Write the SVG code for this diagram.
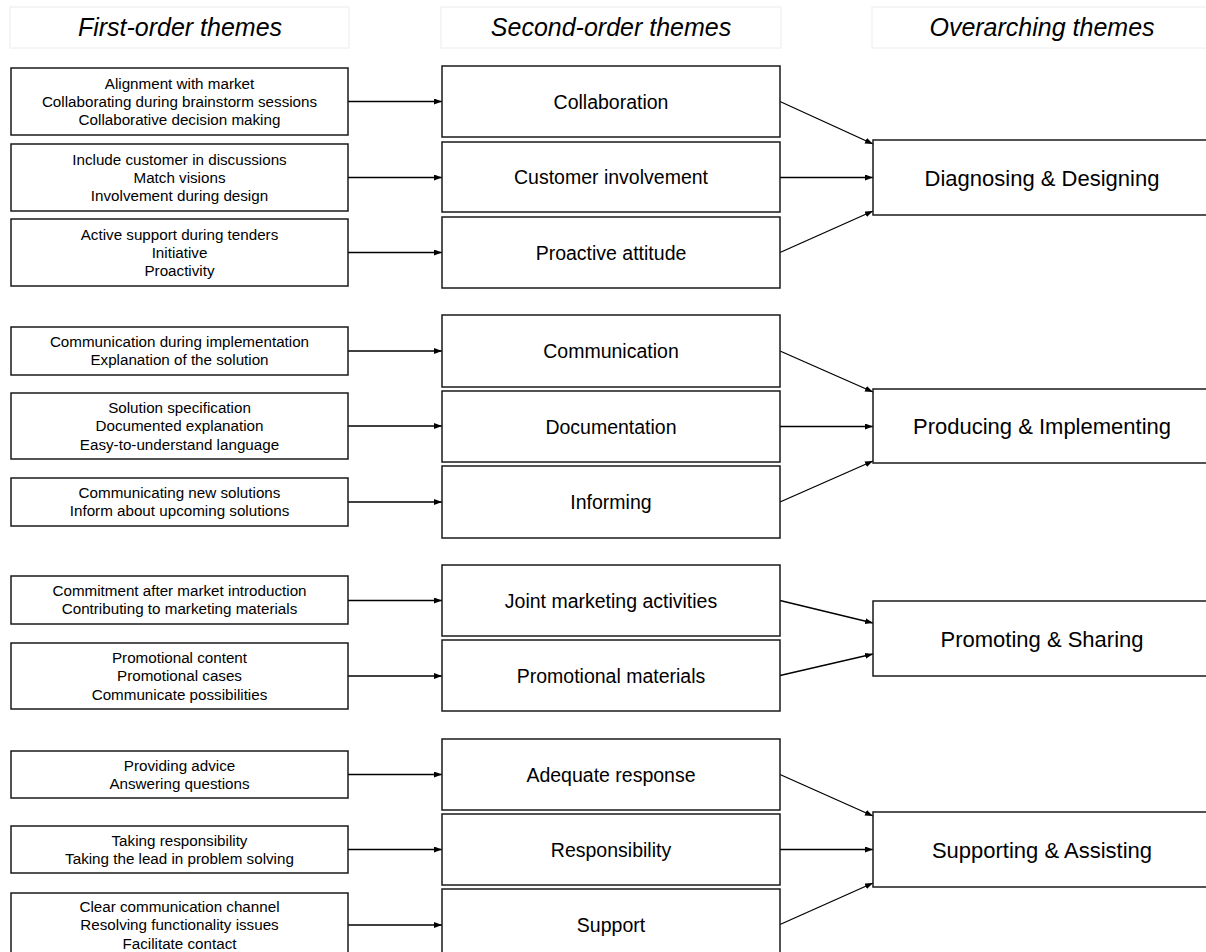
<svg xmlns="http://www.w3.org/2000/svg" width="1206" height="952" viewBox="0 0 1206 952">
<style>
.hdr{fill:#fff;stroke:#ececec;stroke-width:1}
.ht{font-family:"Liberation Sans",Arial,sans-serif;font-style:italic;font-size:25px;fill:#000;text-anchor:middle}
.box{fill:#fff;stroke:#1a1a1a;stroke-width:1.5}
.t1{font-family:"Liberation Sans",Arial,sans-serif;font-size:15.2px;fill:#000;text-anchor:middle}
.t2{font-family:"Liberation Sans",Arial,sans-serif;font-size:19.5px;fill:#000;text-anchor:middle}
.t3{font-family:"Liberation Sans",Arial,sans-serif;font-size:22px;fill:#000;text-anchor:middle}
.c{fill:none;stroke:#000;stroke-width:1.3;marker-end:url(#ah)}
</style>
<defs>
<marker id="ah" markerUnits="userSpaceOnUse" markerWidth="10" markerHeight="8" refX="8" refY="3" orient="auto">
<path d="M0,0 L8,3 L0,6 z" fill="#000"/>
</marker>
</defs>
<rect width="1206" height="952" fill="#fff"/>
<g id="headers">
<rect class="hdr" x="10" y="7" width="339" height="41"/>
<text class="ht" x="180" y="36">First-order themes</text>
<rect class="hdr" x="441" y="7" width="340" height="41"/>
<text class="ht" x="611" y="36">Second-order themes</text>
<rect class="hdr" x="872" y="7" width="340" height="41"/>
<text class="ht" x="1042" y="36">Overarching themes</text>
</g>
<g id="connectors">
<path class="c" d="M348,101.5 H442"/>
<path class="c" d="M348,177.5 H442"/>
<path class="c" d="M348,252.5 H442"/>
<path class="c" d="M348,351 H442"/>
<path class="c" d="M348,426 H442"/>
<path class="c" d="M348,502 H442"/>
<path class="c" d="M348,600.5 H442"/>
<path class="c" d="M348,676 H442"/>
<path class="c" d="M348,774.5 H442"/>
<path class="c" d="M348,849.5 H442"/>
<path class="c" d="M348,925 H442"/>
<path class="c" d="M780,101.5 L873,144"/>
<path class="c" d="M780,177.5 L873,177.5"/>
<path class="c" d="M780,252.5 L873,211"/>
<path class="c" d="M780,351 L873,392"/>
<path class="c" d="M780,426.5 L873,426.5"/>
<path class="c" d="M780,502 L873,461"/>
<path class="c" d="M780,600.5 L873,623"/>
<path class="c" d="M780,675.5 L873,654"/>
<path class="c" d="M780,774.5 L873,816"/>
<path class="c" d="M780,849.5 L873,849.5"/>
<path class="c" d="M780,924.5 L873,883"/>
</g>
<g id="f1"><rect class="box" x="11" y="68" width="337" height="67"/>
<text class="t1" x="179.5" y="88.5">Alignment with market</text><text class="t1" x="179.5" y="106.8">Collaborating during brainstorm sessions</text><text class="t1" x="179.5" y="125.1">Collaborative decision making</text></g>
<g id="f2"><rect class="box" x="11" y="144" width="337" height="67"/>
<text class="t1" x="179.5" y="164.5">Include customer in discussions</text><text class="t1" x="179.5" y="182.8">Match visions</text><text class="t1" x="179.5" y="201.1">Involvement during design</text></g>
<g id="f3"><rect class="box" x="11" y="219" width="337" height="67"/>
<text class="t1" x="179.5" y="239.5">Active support during tenders</text><text class="t1" x="179.5" y="257.8">Initiative</text><text class="t1" x="179.5" y="276.1">Proactivity</text></g>
<g id="f4"><rect class="box" x="11" y="327" width="337" height="48"/>
<text class="t1" x="179.5" y="347">Communication during implementation</text><text class="t1" x="179.5" y="365.3">Explanation of the solution</text></g>
<g id="f5"><rect class="box" x="11" y="393" width="337" height="66"/>
<text class="t1" x="179.5" y="413">Solution specification</text><text class="t1" x="179.5" y="431.3">Documented explanation</text><text class="t1" x="179.5" y="449.6">Easy-to-understand language</text></g>
<g id="f6"><rect class="box" x="11" y="478" width="337" height="48"/>
<text class="t1" x="179.5" y="498">Communicating new solutions</text><text class="t1" x="179.5" y="516.3">Inform about upcoming solutions</text></g>
<g id="f7"><rect class="box" x="11" y="576" width="337" height="48"/>
<text class="t1" x="179.5" y="596">Commitment after market introduction</text><text class="t1" x="179.5" y="614.3">Contributing to marketing materials</text></g>
<g id="f8"><rect class="box" x="11" y="643" width="337" height="66"/>
<text class="t1" x="179.5" y="663">Promotional content</text><text class="t1" x="179.5" y="681.3">Promotional cases</text><text class="t1" x="179.5" y="699.6">Communicate possibilities</text></g>
<g id="f9"><rect class="box" x="11" y="751" width="337" height="47"/>
<text class="t1" x="179.5" y="770.6">Providing advice</text><text class="t1" x="179.5" y="788.9">Answering questions</text></g>
<g id="f10"><rect class="box" x="11" y="826" width="337" height="47"/>
<text class="t1" x="179.5" y="845.6">Taking responsibility</text><text class="t1" x="179.5" y="863.9">Taking the lead in problem solving</text></g>
<g id="f11"><rect class="box" x="11" y="893" width="337" height="66"/>
<text class="t1" x="179.5" y="912">Clear communication channel</text><text class="t1" x="179.5" y="930.3">Resolving functionality issues</text><text class="t1" x="179.5" y="948.6">Facilitate contact</text></g>
<g id="s1"><rect class="box" x="442" y="66" width="338" height="71"/><text class="t2" x="611" y="108.5">Collaboration</text></g>
<g id="s2"><rect class="box" x="442" y="142" width="338" height="70"/><text class="t2" x="611" y="184">Customer involvement</text></g>
<g id="s3"><rect class="box" x="442" y="217" width="338" height="71"/><text class="t2" x="611" y="259.5">Proactive attitude</text></g>
<g id="s4"><rect class="box" x="442" y="315" width="338" height="72"/><text class="t2" x="611" y="358">Communication</text></g>
<g id="s5"><rect class="box" x="442" y="391" width="338" height="71"/><text class="t2" x="611" y="433.5">Documentation</text></g>
<g id="s6"><rect class="box" x="442" y="466" width="338" height="72"/><text class="t2" x="611" y="509">Informing</text></g>
<g id="s7"><rect class="box" x="442" y="565" width="338" height="71"/><text class="t2" x="611" y="607.5">Joint marketing activities</text></g>
<g id="s8"><rect class="box" x="442" y="640" width="338" height="71"/><text class="t2" x="611" y="682.5">Promotional materials</text></g>
<g id="s9"><rect class="box" x="442" y="739" width="338" height="71"/><text class="t2" x="611" y="781.5">Adequate response</text></g>
<g id="s10"><rect class="box" x="442" y="814" width="338" height="71"/><text class="t2" x="611" y="856.5">Responsibility</text></g>
<g id="s11"><rect class="box" x="442" y="889" width="338" height="71"/><text class="t2" x="611" y="931.5">Support</text></g>
<g id="o1"><rect class="box" x="873" y="140" width="340" height="75"/><text class="t3" x="1042" y="185.5">Diagnosing &amp; Designing</text></g>
<g id="o2"><rect class="box" x="873" y="389" width="340" height="74"/><text class="t3" x="1042" y="434">Producing &amp; Implementing</text></g>
<g id="o3"><rect class="box" x="873" y="601" width="340" height="75"/><text class="t3" x="1042" y="646.5">Promoting &amp; Sharing</text></g>
<g id="o4"><rect class="box" x="873" y="812" width="340" height="75"/><text class="t3" x="1042" y="857.5">Supporting &amp; Assisting</text></g>
</svg>
